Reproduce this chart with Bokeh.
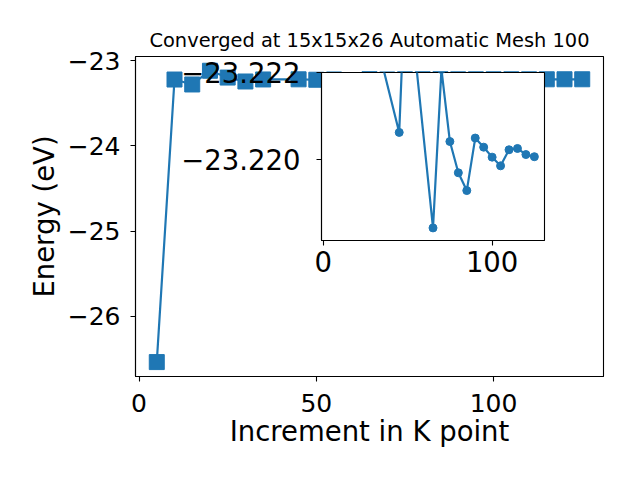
from bokeh.plotting import figure
from bokeh.models import Range1d, FixedTicker, CustomJSTickFormatter
from bokeh.layouts import column
from bokeh.embed import file_html
from bokeh.resources import INLINE

# ---- data ----
kpoints = [5, 10, 15, 20, 25, 30, 35, 45, 50, 55, 65, 70, 75, 80, 85, 90,
           95, 100, 105, 110, 115, 120, 125]
energy = [-26.536, -23.223, -23.281, -23.120, -23.200, -23.246,
          -23.22218, -23.22062, -23.22544, -23.22220, -23.21842, -23.22207,
          -23.22041, -23.21969, -23.21928, -23.22049, -23.22028, -23.22005,
          -23.21985, -23.22022, -23.22025, -23.22011, -23.22006]
inset_start = 6  # inset shows the points from k = 35 on
main_xticks = [0, 50, 100]
main_yticks = [-26, -25, -24, -23]
inset_xticks = [0, 100]
inset_yticks = [-23.222, -23.220]

title_text = "Converged at 15x15x26 Automatic Mesh 100"
xlabel = "Increment in K point"
ylabel = "Energy (eV)"

BLUE = "#1f77b4"
FONT = "DejaVu Sans"

minus_int = CustomJSTickFormatter(code="""
return (tick < 0 ? '\\u2212' : '') + Math.abs(tick).toFixed(0);
""")
minus_3 = CustomJSTickFormatter(code="""
return (tick < 0 ? '\\u2212' : '') + Math.abs(tick).toFixed(3);
""")


def style_axes(fig, xfs, yfs):
    for ax in (fig.xaxis, fig.yaxis):
        ax.axis_line_color = "black"
        ax.axis_line_width = 1.1
        ax.major_tick_line_color = "black"
        ax.major_tick_line_width = 1.1
        ax.major_tick_out = 5
        ax.major_tick_in = 0
        ax.minor_tick_line_color = None
        ax.major_label_text_font = FONT
        ax.major_label_text_color = "black"
        ax.axis_label_text_font = FONT
        ax.axis_label_text_font_style = "normal"
        ax.axis_label_text_color = "black"
    fig.xaxis.major_label_text_font_size = xfs
    fig.yaxis.major_label_text_font_size = yfs
    fig.grid.visible = False
    fig.outline_line_color = "black"
    fig.outline_line_width = 1.1
    fig.outline_line_alpha = 1.0
    try:
        fig.frame_align = False
    except Exception:
        pass


# ---- main figure ----
p = figure(width=632, height=472,
           x_range=Range1d(-1, 131), y_range=Range1d(-26.705, -22.953),
           output_backend="svg", toolbar_location=None,
           min_border_left=135, min_border_right=29,
           min_border_top=56, min_border_bottom=96)
style_axes(p, "25px", "25px")
p.background_fill_color = "white"
p.border_fill_color = "white"
p.xaxis.ticker = FixedTicker(ticks=main_xticks)
p.yaxis.ticker = FixedTicker(ticks=main_yticks)
p.xaxis.formatter = minus_int
p.yaxis.formatter = minus_int
p.xaxis.axis_label = xlabel
p.yaxis.axis_label = ylabel
p.xaxis.axis_label_text_font_size = "27.5px"
p.yaxis.axis_label_text_font_size = "27.5px"
p.xaxis.major_label_standoff = 12
p.yaxis.major_label_standoff = 10
p.xaxis.axis_label_standoff = 0
p.yaxis.axis_label_standoff = 5

p.title.text = title_text
p.title.text_font = FONT
p.title.text_font_size = "19.4px"
p.title.text_font_style = "normal"
p.title.align = "center"
p.title.text_color = "black"

p.line(kpoints, energy, line_width=2.2, color=BLUE)
p.scatter(kpoints, energy, marker="square", size=15, color=BLUE)

# ---- inset figure ----
q = figure(width=378, height=233,
           x_range=Range1d(-1, 131), y_range=Range1d(-23.21813, -23.222),
           output_backend="svg", toolbar_location=None,
           min_border_left=145, min_border_right=10,
           min_border_top=20, min_border_bottom=45)
style_axes(q, "27.5px", "27.5px")
q.background_fill_color = "white"
q.border_fill_color = None
q.xaxis.ticker = FixedTicker(ticks=inset_xticks)
q.yaxis.ticker = FixedTicker(ticks=inset_yticks)
q.xaxis.formatter = minus_int
q.yaxis.formatter = minus_3
q.xaxis.major_label_standoff = 5
q.yaxis.major_label_standoff = 16

q.line(kpoints[inset_start:], energy[inset_start:], line_width=2.2, color=BLUE)
q.scatter(kpoints[inset_start:], energy[inset_start:], marker="circle", size=8, color=BLUE)

q.margin = (52 - 472, 0, 472 - (52 + 233), 176)

layout = column(p, q, spacing=0)

open("out.html", "w").write(file_html(layout, INLINE))
